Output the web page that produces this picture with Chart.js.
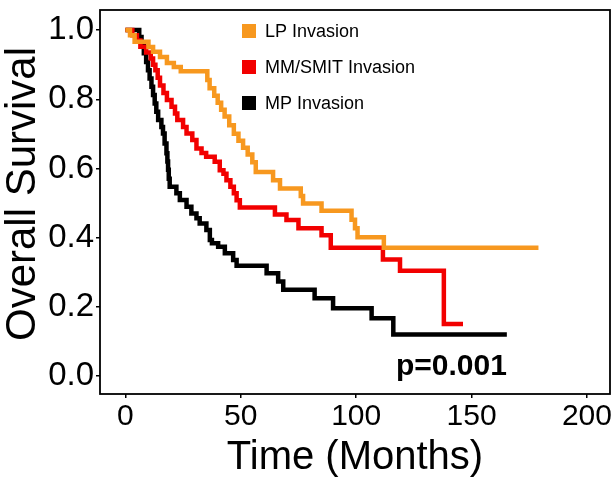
<!DOCTYPE html>
<html>
<head>
<meta charset="utf-8">
<script src="https://cdn.jsdelivr.net/npm/chart.js@4"></script>
<style>
  html, body { margin: 0; padding: 0; background: #ffffff; }
  #wrap { width: 614px; height: 482px; }
</style>
</head>
<body>
<div id="wrap"><canvas id="km" width="614" height="482"></canvas></div>
<script>
// Kaplan-Meier survival estimates by invasion pattern (time in months)
const groups = ['LP Invasion', 'MM/SMIT Invasion', 'MP Invasion'];
const groupColors = ['#F7981F', '#F20000', '#000000'];

const lpTime = [0, 2, 4, 10, 12, 15, 18, 21, 24, 35.5, 36.5, 38.5, 40, 41.5, 43, 45, 47, 49, 51, 53, 55, 56.5, 64, 67, 76, 77, 85, 98, 99.5, 100.6, 112, 179];
const lpSurv = [1.0, 0.985, 0.966, 0.951, 0.937, 0.922, 0.905, 0.893, 0.881, 0.856, 0.832, 0.81, 0.79, 0.77, 0.75, 0.725, 0.70, 0.68, 0.66, 0.64, 0.618, 0.59, 0.566, 0.542, 0.52, 0.499, 0.478, 0.452, 0.427, 0.401, 0.371, 0.371];

const mmTime = [0, 3, 5, 6.5, 9, 11, 12, 13, 14, 15, 16.5, 18, 20, 21.5, 22.5, 25, 26.5, 29, 30.8, 33, 35, 38.7, 40.9, 42.5, 43.8, 45.5, 47, 48.2, 49.6, 64.8, 69.8, 75, 85, 89, 111.6, 119, 138, 146.3];
const mmSurv = [1.0, 0.985, 0.97, 0.952, 0.935, 0.918, 0.9, 0.884, 0.862, 0.84, 0.818, 0.798, 0.778, 0.759, 0.74, 0.72, 0.701, 0.682, 0.658, 0.645, 0.634, 0.619, 0.595, 0.585, 0.566, 0.547, 0.528, 0.508, 0.487, 0.467, 0.451, 0.427, 0.407, 0.371, 0.337, 0.304, 0.150, 0.150];

const mpTime = [0, 6, 7, 8, 9, 9.8, 10.5, 11.3, 12, 12.7, 13.4, 14.2, 15.6, 16.3, 17, 17.8, 18.2, 18.5, 18.8, 19.2, 22.1, 23.6, 26.5, 28.6, 30.8, 32.2, 35.1, 36.6, 37.5, 40.2, 43.1, 46.7, 48.2, 61.2, 66.2, 68.4, 82, 90, 106.7, 116.1, 165.3];
const mpSurv = [1.0, 0.98, 0.961, 0.933, 0.908, 0.884, 0.86, 0.836, 0.812, 0.788, 0.764, 0.74, 0.72, 0.701, 0.672, 0.644, 0.62, 0.596, 0.57, 0.547, 0.528, 0.509, 0.489, 0.47, 0.456, 0.441, 0.422, 0.393, 0.384, 0.374, 0.355, 0.335, 0.319, 0.297, 0.273, 0.249, 0.225, 0.196, 0.167, 0.12, 0.12];

const xTicks = [0, 50, 100, 150, 200];
const yTicks = [0.0, 0.2, 0.4, 0.6, 0.8, 1.0];
const yTitle = 'Overall Survival';
const pValueText = 'p=0.001';

const FONT = '"Liberation Sans", Arial, Helvetica, sans-serif';

function toPoints(times, surv) {
  return times.map((t, i) => ({ x: t, y: surv[i] }));
}

const series = [
  toPoints(lpTime, lpSurv),
  toPoints(mmTime, mmSurv),
  toPoints(mpTime, mpSurv)
];

// Box around the panel, like a bordered ggplot theme
const panelBox = {
  id: 'panelBox',
  afterDatasetsDraw(chart) {
    const { ctx, chartArea: a } = chart;
    ctx.save();
    ctx.strokeStyle = '#000';
    ctx.lineWidth = 1.8;
    ctx.strokeRect(a.left, a.top, a.right - a.left, a.bottom - a.top);
    ctx.restore();
  }
};

// Rotated y-axis title, centred a little above the panel middle
const sideTitle = {
  id: 'sideTitle',
  afterDraw(chart) {
    const { ctx, chartArea: a } = chart;
    ctx.save();
    ctx.translate(23, (a.top + a.bottom) / 2 - 8);
    ctx.rotate(-Math.PI / 2);
    ctx.font = '42px ' + FONT;
    ctx.fillStyle = '#000';
    ctx.textAlign = 'center';
    ctx.textBaseline = 'middle';
    ctx.fillText(yTitle, 0, 0);
    ctx.restore();
  }
};

// Square-key legend inside the panel
const keyLegend = {
  id: 'keyLegend',
  afterDraw(chart) {
    const { ctx, chartArea: a } = chart;
    const x0 = a.left + 142;
    const y0 = a.top + 21;
    const rowGap = 36;
    ctx.save();
    ctx.font = '18px ' + FONT;
    ctx.textBaseline = 'middle';
    ctx.textAlign = 'left';
    chart.data.datasets.forEach((ds, i) => {
      const cy = y0 + i * rowGap;
      ctx.fillStyle = ds.borderColor;
      ctx.fillRect(x0, cy - 7, 14, 14);
      ctx.fillStyle = '#000';
      ctx.fillText(ds.label, x0 + 23, cy + 1);
    });
    ctx.restore();
  }
};

// Log-rank p-value placed in data coordinates
const pLabel = {
  id: 'pLabel',
  afterDraw(chart) {
    const { ctx, scales } = chart;
    const px = scales.x.getPixelForValue(141.3);
    const py = scales.y.getPixelForValue(0.027);
    ctx.save();
    ctx.font = 'bold 30px ' + FONT;
    ctx.fillStyle = '#000';
    ctx.textAlign = 'center';
    ctx.textBaseline = 'middle';
    ctx.fillText(pValueText, px, py);
    ctx.restore();
  }
};

new Chart(document.getElementById('km'), {
  type: 'line',
  data: {
    datasets: groups.map((g, i) => ({
      label: g,
      data: series[i],
      borderColor: groupColors[i],
      backgroundColor: groupColors[i],
      borderWidth: 4.5,
      stepped: true,
      pointRadius: 0,
      fill: false,
      borderCapStyle: 'butt',
      borderJoinStyle: 'miter'
    }))
  },
  options: {
    responsive: false,
    animation: false,
    layout: { padding: { left: 0, right: 4, top: 10, bottom: 0 } },
    plugins: {
      legend: { display: false },
      tooltip: { enabled: false }
    },
    scales: {
      x: {
        type: 'linear',
        min: -11,
        max: 210,
        afterBuildTicks(scale) { scale.ticks = xTicks.map(v => ({ value: v })); },
        afterFit(scale) {
          scale.height = 88;
          scale.paddingLeft = 0;
          scale.paddingRight = 0;
        },
        border: { display: false },
        grid: { display: true, drawOnChartArea: false, drawTicks: true, tickLength: 4, color: '#000', lineWidth: 1.5 },
        ticks: {
          color: '#000',
          font: { family: FONT, size: 30 },
          padding: 1,
          maxRotation: 0,
          callback: v => String(v)
        },
        title: {
          display: true,
          text: 'Time (Months)',
          color: '#000',
          font: { family: FONT, size: 40 },
          padding: { top: 0, bottom: 0 }
        }
      },
      y: {
        type: 'linear',
        min: -0.052,
        max: 1.058,
        afterBuildTicks(scale) { scale.ticks = yTicks.map(v => ({ value: v })); },
        afterFit(scale) {
          scale.width = 100;
          scale.paddingTop = 0;
          scale.paddingBottom = 0;
        },
        border: { display: false },
        grid: { display: true, drawOnChartArea: false, drawTicks: true, tickLength: 4, color: '#000', lineWidth: 1.5 },
        ticks: {
          color: '#000',
          font: { family: FONT, size: 33 },
          padding: 2,
          callback: v => Number(v).toFixed(1)
        },
        title: { display: false }
      }
    }
  },
  plugins: [panelBox, sideTitle, keyLegend, pLabel]
});
</script>
</body>
</html>
